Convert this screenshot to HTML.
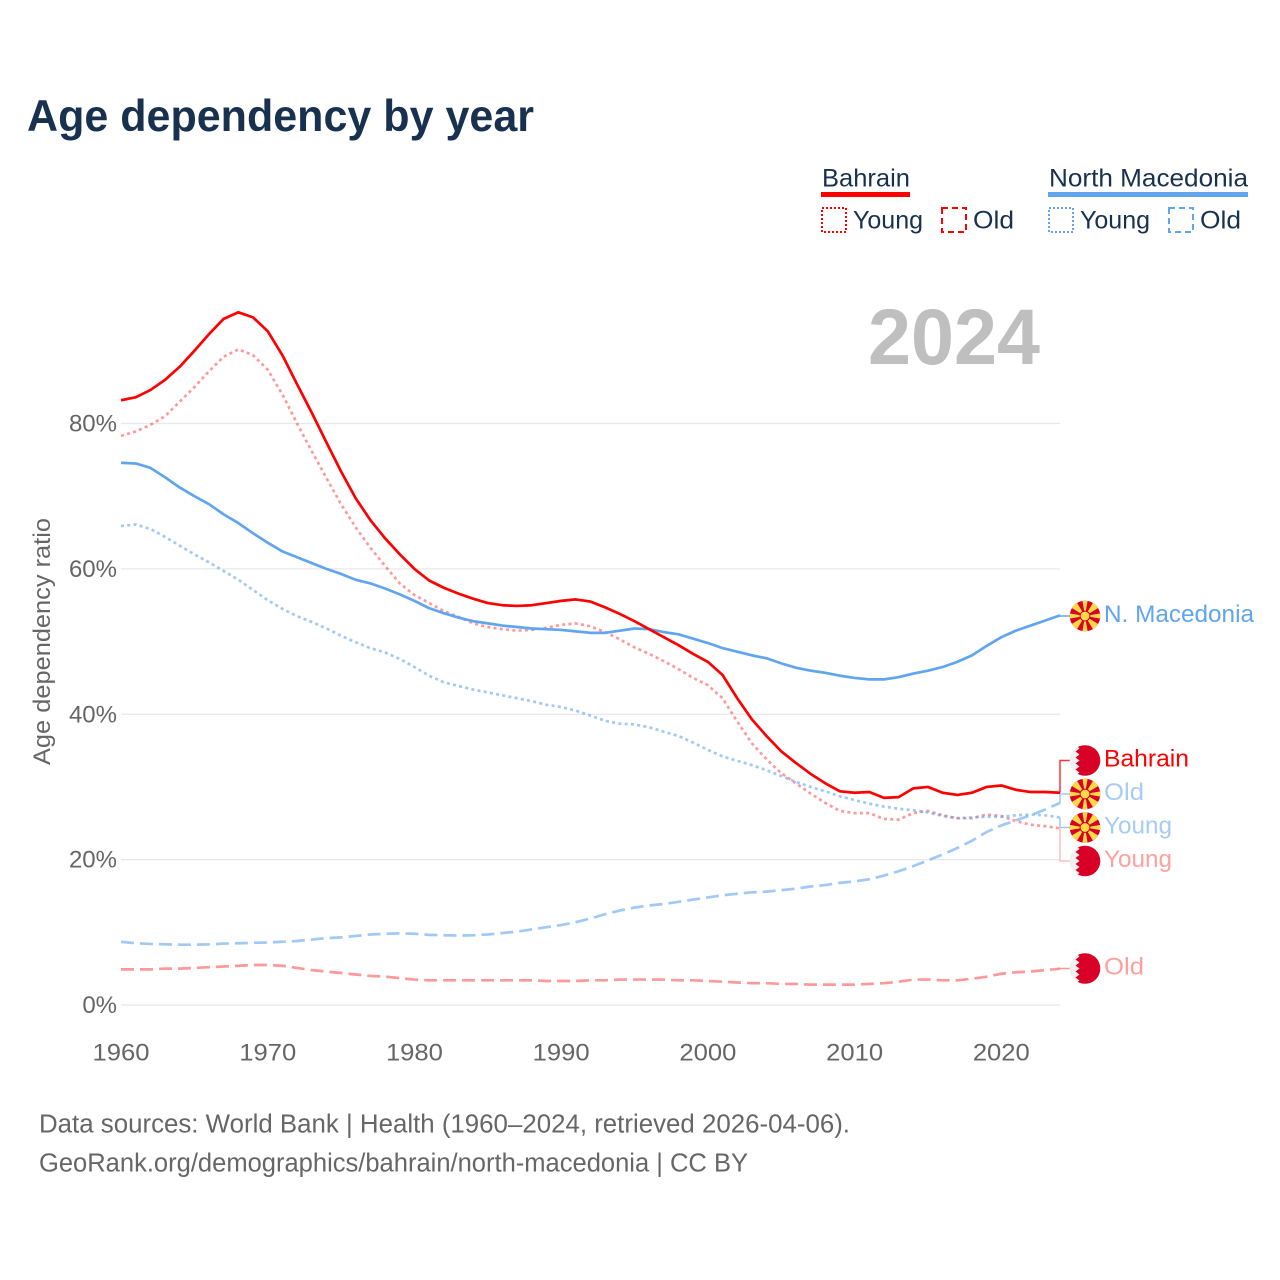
<!DOCTYPE html>
<html lang="en">
<head>
<meta charset="utf-8">
<title>Age dependency by year</title>
<style>
html,body{margin:0;padding:0;background:#fff}
svg{display:block}
text{font-family:"Liberation Sans",sans-serif}
</style>
</head>
<body>
<svg id="chart" xmlns="http://www.w3.org/2000/svg" width="1280" height="1280" viewBox="0 0 1280 1280">
  <text x="27" y="131" font-size="44.5" font-weight="700" fill="#18314f" textLength="507" lengthAdjust="spacingAndGlyphs">Age dependency by year</text>

  <g fill="#18314f" font-size="25">
    <text x="822" y="186.5" textLength="88" lengthAdjust="spacingAndGlyphs">Bahrain</text>
    <rect x="821" y="192" width="89" height="5" fill="#ff0000"/>
    <rect x="822" y="208" width="24" height="24" fill="none" stroke="#ff0000" stroke-width="2" stroke-dasharray="2 2"/>
    <text x="853" y="228.5" textLength="70" lengthAdjust="spacingAndGlyphs">Young</text>
    <rect x="942" y="208" width="24" height="24" fill="none" stroke="#ff0000" stroke-width="2" stroke-dasharray="6 4"/>
    <text x="973" y="228.5" textLength="41" lengthAdjust="spacingAndGlyphs">Old</text>
    <text x="1049" y="186.5" textLength="199" lengthAdjust="spacingAndGlyphs">North Macedonia</text>
    <rect x="1048" y="192" width="200" height="5" fill="#60a5ee"/>
    <rect x="1049" y="208" width="24" height="24" fill="none" stroke="#60a5ee" stroke-width="2" stroke-dasharray="2 2"/>
    <text x="1080" y="228.5" textLength="70" lengthAdjust="spacingAndGlyphs">Young</text>
    <rect x="1169" y="208" width="24" height="24" fill="none" stroke="#60a5ee" stroke-width="2" stroke-dasharray="6 4"/>
    <text x="1200" y="228.5" textLength="41" lengthAdjust="spacingAndGlyphs">Old</text>
  </g>

  <text x="868" y="364" font-size="79" font-weight="700" fill="#bfbfbf" textLength="172" lengthAdjust="spacingAndGlyphs">2024</text>

  <text transform="translate(50,765) rotate(-90)" font-size="24" fill="#666666" textLength="247" lengthAdjust="spacingAndGlyphs">Age dependency ratio</text>

  <g id="grid"></g>
  <g id="yticks"></g>
  <g id="xticks"></g>
  <g id="connectors"></g>
  <g id="series"></g>
  <g id="endlabels"></g>

  <g font-size="25.5" fill="#666666">
    <text x="39" y="1132.5" textLength="811" lengthAdjust="spacingAndGlyphs">Data sources: World Bank | Health (1960–2024, retrieved 2026-04-06).</text>
    <text x="39" y="1171.5" textLength="709" lengthAdjust="spacingAndGlyphs">GeoRank.org/demographics/bahrain/north-macedonia | CC BY</text>
  </g>
</svg>
<script>
const firstYear = 1960;
const lastYear = 2024;
const xTickYears = [1960, 1970, 1980, 1990, 2000, 2010, 2020];
const yTickValues = [0, 20, 40, 60, 80];

const bahrainTotal = [83.2,83.6,84.6,86.0,87.8,90.0,92.3,94.4,95.3,94.6,92.7,89.4,85.4,81.5,77.4,73.4,69.7,66.7,64.2,62.0,60.0,58.4,57.4,56.6,55.9,55.3,55.0,54.9,55.0,55.3,55.6,55.8,55.5,54.7,53.8,52.8,51.7,50.6,49.5,48.3,47.2,45.4,42.2,39.3,37.0,34.9,33.3,31.8,30.5,29.4,29.2,29.3,28.5,28.6,29.8,30.0,29.2,28.9,29.2,30.0,30.2,29.6,29.3,29.3,29.2];
const bahrainYoung = [78.3,78.9,79.8,81.0,83.0,85.0,87.2,89.2,90.2,89.4,87.4,84.0,80.0,76.2,72.5,68.9,65.7,62.9,60.4,58.0,56.4,55.3,54.2,53.4,52.5,52.0,51.7,51.5,51.6,51.9,52.3,52.5,52.1,51.3,50.3,49.2,48.3,47.3,46.2,45.0,44.0,42.2,39.0,36.0,33.8,31.9,30.5,29.1,27.8,26.7,26.4,26.4,25.6,25.5,26.4,26.7,26.1,25.7,25.7,26.2,26.0,25.3,24.8,24.6,24.3];
const bahrainOld = [4.9,4.9,4.9,5.0,5.0,5.1,5.2,5.3,5.4,5.5,5.5,5.4,5.1,4.8,4.6,4.4,4.2,4.0,3.9,3.7,3.5,3.4,3.4,3.4,3.4,3.4,3.4,3.4,3.4,3.3,3.3,3.3,3.4,3.4,3.5,3.5,3.5,3.5,3.4,3.4,3.3,3.2,3.1,3.0,3.0,2.9,2.9,2.8,2.8,2.8,2.8,2.9,3.0,3.2,3.5,3.5,3.4,3.4,3.6,3.9,4.3,4.5,4.6,4.8,5.0];
const macedoniaTotal = [74.6,74.5,73.9,72.6,71.2,70.0,68.9,67.5,66.3,64.9,63.6,62.4,61.6,60.8,60.0,59.3,58.5,58.0,57.3,56.5,55.6,54.6,53.9,53.3,52.8,52.5,52.2,52.0,51.8,51.7,51.6,51.4,51.2,51.2,51.5,51.8,51.7,51.3,51.0,50.4,49.8,49.1,48.6,48.1,47.7,47.0,46.4,46.0,45.7,45.3,45.0,44.8,44.8,45.1,45.6,46.0,46.5,47.2,48.1,49.4,50.6,51.5,52.2,52.9,53.6];
const macedoniaYoung = [65.9,66.1,65.5,64.4,63.2,62.0,60.9,59.7,58.5,57.1,55.7,54.5,53.5,52.7,51.8,50.8,49.9,49.1,48.5,47.6,46.5,45.3,44.4,43.9,43.4,43.0,42.6,42.2,41.8,41.3,41.0,40.5,39.8,39.1,38.7,38.6,38.2,37.6,37.0,36.1,35.1,34.2,33.6,33.0,32.3,31.5,30.7,30.0,29.4,28.7,28.2,27.7,27.3,27.0,26.8,26.5,26.0,25.7,25.8,25.9,25.9,26.1,26.2,26.1,25.8];
const macedoniaOld = [8.7,8.5,8.4,8.35,8.3,8.3,8.35,8.45,8.5,8.55,8.6,8.7,8.8,9.0,9.2,9.3,9.5,9.7,9.8,9.85,9.8,9.65,9.6,9.55,9.6,9.7,9.9,10.1,10.4,10.7,11.0,11.4,11.9,12.5,13.0,13.4,13.7,13.9,14.2,14.5,14.8,15.1,15.3,15.5,15.6,15.8,16.0,16.3,16.5,16.8,17.0,17.3,17.8,18.4,19.1,19.9,20.7,21.6,22.6,23.8,24.7,25.4,26.1,26.9,27.8];

const NS = 'http://www.w3.org/2000/svg';
const RED = '#ff0000';
const BLUE = '#60a5ee';

function xScale(year) {
  return 121 + (year - firstYear) * (1060 - 121) / (lastYear - firstYear);
}
function yScale(value) {
  return 1005 - value * (1005 - 423.5) / 80;
}
function make(tag, attrs, parent) {
  const el = document.createElementNS(NS, tag);
  for (const k in attrs) el.setAttribute(k, attrs[k]);
  parent.appendChild(el);
  return el;
}

const gridGroup = document.getElementById('grid');
const yTickGroup = document.getElementById('yticks');
yTickValues.forEach(function (v) {
  const line = make('line', {x1: 121, x2: 1060, y1: yScale(v), y2: yScale(v), stroke: '#e8e8e8', 'stroke-width': 1.3}, gridGroup);
  
  
  const t = make('text', {x: 117, y: yScale(v) + 8, 'text-anchor': 'end', 'font-size': 24, fill: '#666666'}, yTickGroup);
  
  
  t.textContent = v + '%';
});

const xTickGroup = document.getElementById('xticks');
xTickYears.forEach(function (yr) {
  const t = make('text', {x: xScale(yr), y: 1060.5, 'text-anchor': 'middle', 'font-size': 24.5, fill: '#666666', textLength: 57, lengthAdjust: 'spacingAndGlyphs'}, xTickGroup);
  
  
  t.textContent = yr;
});

function drawSeries(values, name, color, opacity, dash, width) {
  const d = values.map(function (v, i) {
    return (i ? 'L' : 'M') + xScale(firstYear + i).toFixed(2) + ' ' + yScale(v).toFixed(2);
  }).join(' ');
  const p = make('path', {d: d, fill: 'none', stroke: color, 'stroke-width': width, 'stroke-opacity': opacity, 'stroke-linejoin': 'round'}, document.getElementById('series'));
  if (dash) p.setAttribute('stroke-dasharray', dash);
  
  
}
drawSeries(bahrainOld, 'line-bahrain-old', RED, 0.4, '13 6', 2.7);
drawSeries(macedoniaOld, 'line-macedonia-old', BLUE, 0.6, '13 6', 2.7);
drawSeries(bahrainYoung, 'line-bahrain-young', RED, 0.4, '3 3.3', 2.7);
drawSeries(macedoniaYoung, 'line-macedonia-young', BLUE, 0.6, '3 3.3', 2.7);
drawSeries(macedoniaTotal, 'line-macedonia-total', BLUE, 1, '', 2.7);
drawSeries(bahrainTotal, 'line-bahrain-total', RED, 1, '', 2.7);

let clipCounter = 0;
function drawFlag(kind, cy, parent) {
  const g = make('g', {}, parent);
  
  
  const cx = 1085, r = 15.3;
  const id = 'flagclip' + (clipCounter++);
  const clip = make('clipPath', {id: id}, g);
  make('circle', {cx: cx, cy: cy, r: r}, clip);
  if (kind === 'bh') {
    make('circle', {cx: cx, cy: cy, r: r, fill: '#f0f0f0'}, g);
    let pts = [[cx + 16, cy - 16], [cx - 9.5, cy - 16]];
    const teeth = 5, h = 30 / teeth;
    for (let i = 0; i < teeth; i++) {
      pts.push([cx - 5.5, cy - 15 + i * h + h / 2]);
      pts.push([cx - 9.5, cy - 15 + (i + 1) * h]);
    }
    pts.push([cx - 9.5, cy + 16], [cx + 16, cy + 16]);
    make('polygon', {points: pts.map(function (q) { return q.join(','); }).join(' '), fill: '#d80027', 'clip-path': 'url(#' + id + ')'}, g);
  } else {
    make('circle', {cx: cx, cy: cy, r: r, fill: '#d80027'}, g);
    for (let a = 0; a < 8; a++) {
      const t = a * Math.PI / 4;
      const w = a % 2 ? 0.24 : 0.17;
      const p1 = [cx + 20 * Math.cos(t - w), cy + 20 * Math.sin(t - w)];
      const p2 = [cx + 20 * Math.cos(t + w), cy + 20 * Math.sin(t + w)];
      make('polygon', {points: cx + ',' + cy + ' ' + p1.join(',') + ' ' + p2.join(','), fill: '#ffda44', 'clip-path': 'url(#' + id + ')'}, g);
    }
    make('circle', {cx: cx, cy: cy, r: 5.4, fill: '#d80027'}, g);
    make('circle', {cx: cx, cy: cy, r: 4.4, fill: '#ffda44'}, g);
  }
}

function drawConnector(values, labelY, color, opacity, name) {
  const endY = yScale(values[values.length - 1]);
  const p = make('path', {d: 'M1060 ' + endY.toFixed(2) + ' L1060 ' + labelY + ' L1070 ' + labelY, fill: 'none', stroke: color, 'stroke-width': 1.5, 'stroke-opacity': opacity}, document.getElementById('connectors'));
  
  
}
drawConnector(bahrainTotal, 760.5, RED, 0.8, 'connector-bahrain-total');
drawConnector(macedoniaOld, 794, BLUE, 0.6, 'connector-macedonia-old');
drawConnector(macedoniaYoung, 827.5, BLUE, 0.6, 'connector-macedonia-young');
drawConnector(bahrainYoung, 861, RED, 0.25, 'connector-bahrain-young');
drawConnector(macedoniaTotal, 616, BLUE, 1, 'connector-macedonia-total');
drawConnector(bahrainOld, 968.5, RED, 0.4, 'connector-bahrain-old');

const endGroup = document.getElementById('endlabels');
function drawEndLabel(kind, y, text, color, width, name) {
  drawFlag(kind, y, endGroup);
  const t = make('text', {x: 1104, y: y + 6, 'font-size': 24.5, fill: color, textLength: width, lengthAdjust: 'spacingAndGlyphs'}, endGroup);
  
  
  t.textContent = text;
}
drawEndLabel('mk', 616, 'N. Macedonia', '#60a5ee', 150, 'label-macedonia-total');
drawEndLabel('bh', 760.5, 'Bahrain', '#ff0000', 85, 'label-bahrain-total');
drawEndLabel('mk', 794, 'Old', '#a6ccf6', 40, 'label-macedonia-old');
drawEndLabel('mk', 827.5, 'Young', '#a6ccf6', 68, 'label-macedonia-young');
drawEndLabel('bh', 861, 'Young', '#ffa0a0', 68, 'label-bahrain-young');
drawEndLabel('bh', 968.5, 'Old', '#ffa0a0', 40, 'label-bahrain-old');
</script>
</body>
</html>
